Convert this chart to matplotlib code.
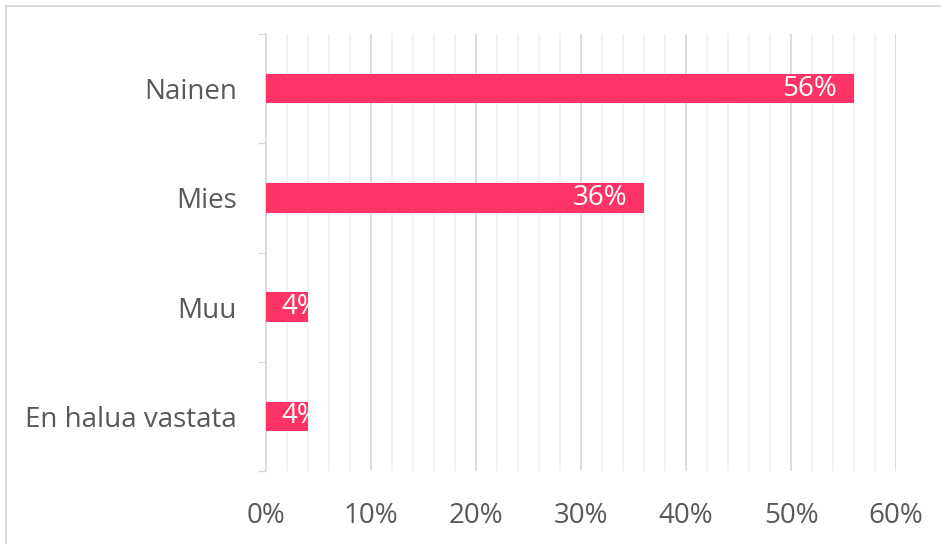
import matplotlib.pyplot as plt
import matplotlib.ticker as mticker
from matplotlib.lines import Line2D

# datos
categorias = ["Nainen", "Mies", "Muu", "En halua vastata"]
valores = [56, 36, 4, 4]
etiquetas_x = ["0%", "10%", "20%", "30%", "40%", "50%", "60%"]

color_barra = "#FF3366"
gris_texto = "#595959"
tam = 20

plt.rcParams["font.family"] = ["Open Sans", "DejaVu Sans"]

fig = plt.figure(figsize=(9.41, 5.44), dpi=100)
ax = fig.add_axes([266 / 941, 73 / 544, 630 / 941, 437 / 544])

pos = list(range(len(categorias)))
barras = ax.barh(pos, valores, height=0.27, color=color_barra, zorder=3)

ax.set_xlim(0, 60)
ax.set_ylim(3.5, -0.5)

# rejilla
ax.xaxis.set_major_locator(mticker.MultipleLocator(10))
ax.xaxis.set_minor_locator(mticker.MultipleLocator(2))
ax.grid(axis="x", which="major", color="#D9D9D9", linewidth=1.3, zorder=1)
ax.grid(axis="x", which="minor", color="#F2F2F2", linewidth=1.3, zorder=0)
ax.set_xticks(range(0, 61, 10))
ax.set_xticklabels(etiquetas_x)
ax.tick_params(axis="x", which="both", length=0, pad=22, labelsize=tam, labelcolor=gris_texto)

ax.set_yticks(pos)
ax.set_yticklabels(categorias)
ax.set_yticks([p - 0.5 for p in pos] + [3.5], minor=True)
ax.tick_params(axis="y", which="major", length=0, pad=21, labelsize=tam, labelcolor=gris_texto)
ax.tick_params(axis="y", which="minor", length=8 * 0.72, width=1, color="#D9D9D9", direction="out")

for s in ["top", "right", "bottom"]:
    ax.spines[s].set_visible(False)
ax.spines["left"].set_color("#D9D9D9")
ax.spines["left"].set_linewidth(1.3)

# etiquetas de datos
for b, v in zip(barras, valores):
    y = b.get_y() + b.get_height() / 2
    if v > 10:
        t = ax.annotate(f"{v}%", (v, y), xytext=(-12, 0), textcoords="offset points",
                        ha="right", va="center", color="white", fontsize=tam, zorder=4)
    else:
        t = ax.annotate(f"{v}%", (0, y), xytext=(11, 0), textcoords="offset points",
                        ha="left", va="center", color="white", fontsize=tam, zorder=4)
    t.set_clip_path(b)

# borde del grafico
fig.add_artist(Line2D([6 / 941, 6 / 941], [0, 1 - 6 / 544], transform=fig.transFigure,
                      color="#D9D9D9", linewidth=1.3))
fig.add_artist(Line2D([6 / 941, 1], [1 - 6 / 544, 1 - 6 / 544], transform=fig.transFigure,
                      color="#D9D9D9", linewidth=1.3))

fig.savefig("out.png", dpi=100)
